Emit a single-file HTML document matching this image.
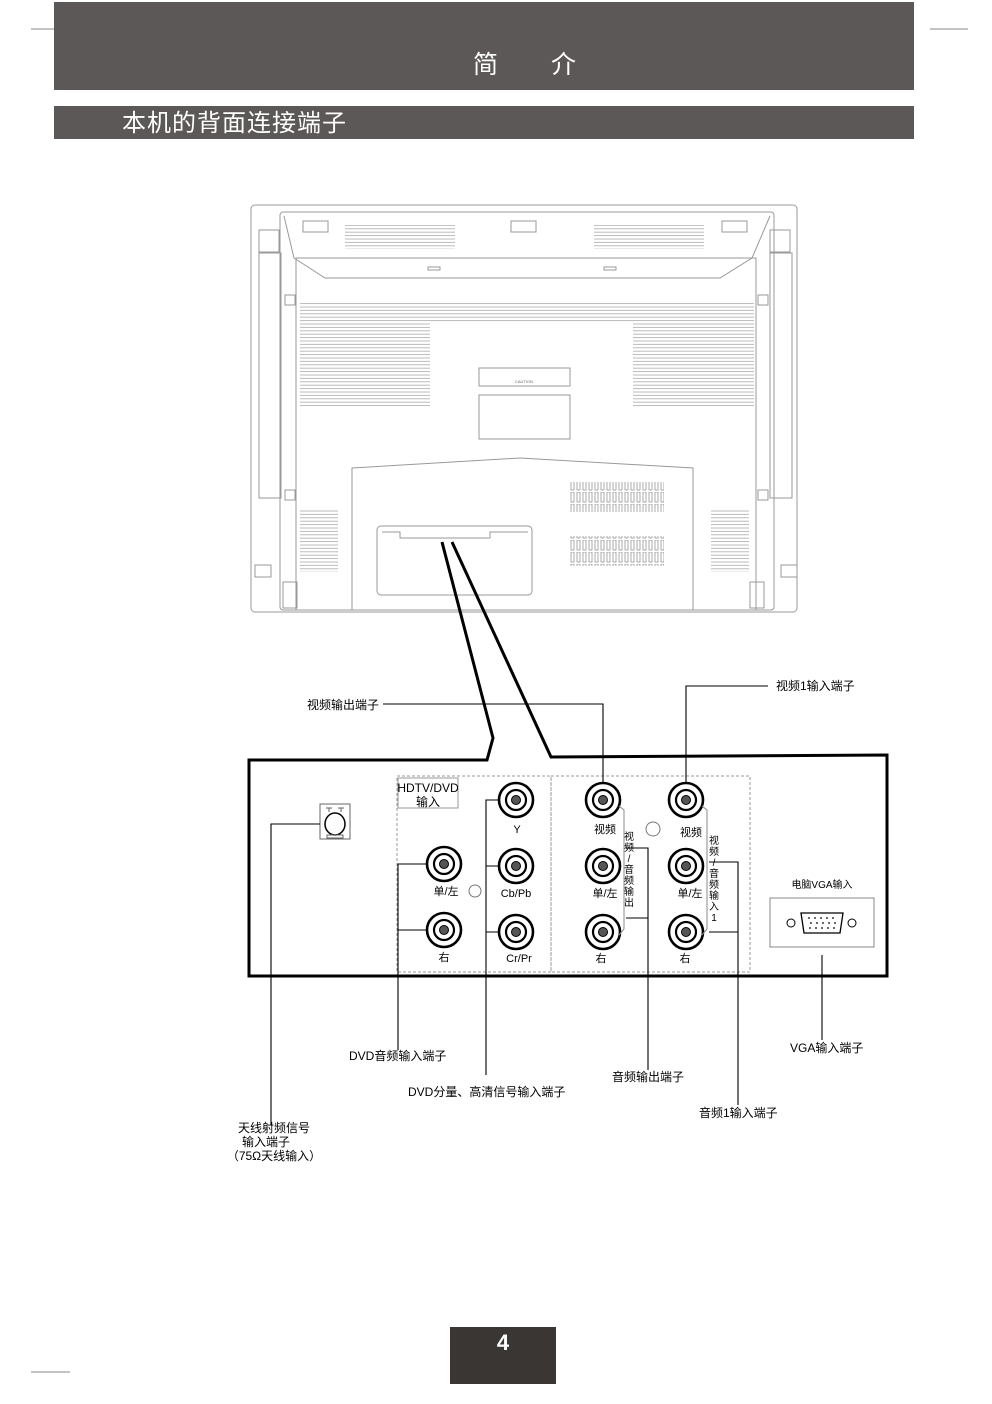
<!DOCTYPE html>
<html><head><meta charset="utf-8"><style>
html,body{margin:0;padding:0;background:#fff;}
svg{display:block;}
text{font-family:"Liberation Sans","Noto Sans CJK SC",sans-serif;}
</style></head><body>
<svg width="992" height="1404" viewBox="0 0 992 1404" xmlns="http://www.w3.org/2000/svg">
<defs>
<pattern id="vent" x="0" y="0" width="10" height="3.4" patternUnits="userSpaceOnUse">
<line x1="0" y1="1" x2="10" y2="1" stroke="#aaa" stroke-width="0.8"/>
</pattern>
<pattern id="slot" x="0" y="0" width="6" height="12" patternUnits="userSpaceOnUse">
<rect x="1" y="0" width="3" height="10" fill="none" stroke="#888" stroke-width="0.7"/>
</pattern>
<g id="jack">
<circle r="17" fill="#fff" stroke="#000" stroke-width="2.6"/>
<circle r="10" fill="none" stroke="#000" stroke-width="2.2"/>
<circle r="4.5" fill="#555" stroke="#000" stroke-width="1"/>
</g>
</defs>
<g stroke="#888" stroke-width="1">
<line x1="31" y1="29" x2="70" y2="29"/><line x1="930" y1="29" x2="968" y2="29"/>
<line x1="31" y1="1372" x2="70" y2="1372"/>
</g>
<rect x="54" y="2" width="860" height="88" fill="#5c5857"/>
<text x="473" y="73" font-size="25" fill="#fff">简</text>
<text x="551" y="73" font-size="25" fill="#fff">介</text>
<rect x="54" y="106" width="860" height="33" fill="#5c5857"/>
<text x="122" y="131" font-size="24" fill="#fff" letter-spacing="1">本机的背面连接端子</text>

<g fill="none" stroke="#999" stroke-width="1">
<rect x="251" y="205" width="546" height="407" rx="4"/>
<rect x="280" y="212" width="494" height="398" rx="3"/>
<path d="M284 216 L294 258 L325 278 L720 278 L752 258 L770 216"/>
<rect x="296" y="258" width="460" height="352"/>
<rect x="259" y="230" width="20" height="22"/><rect x="770" y="230" width="20" height="22"/>
<rect x="259" y="253" width="22" height="245"/><rect x="770" y="253" width="22" height="245"/>
<rect x="255" y="565" width="16" height="12"/><rect x="781" y="565" width="16" height="12"/>
<rect x="303" y="221" width="25" height="11"/><rect x="511" y="221" width="25" height="11"/><rect x="722" y="221" width="25" height="11"/>
<rect x="428" y="267" width="12" height="3"/><rect x="604" y="267" width="12" height="3"/>
<rect x="479" y="368" width="91" height="18"/>
<rect x="479" y="395" width="91" height="44"/>
<path d="M352 468 L520 458 L693 468 L693 610 L352 610 Z"/>
<rect x="377" y="526" width="155" height="69" rx="4"/>
<path d="M382 532 L400 532 L400 538 L490 538 L490 532 L528 532"/>
<rect x="285" y="295" width="10" height="10"/><rect x="285" y="490" width="10" height="10"/>
<rect x="758" y="295" width="10" height="10"/><rect x="758" y="490" width="10" height="10"/>
<rect x="283" y="582" width="14" height="26"/><rect x="750" y="582" width="14" height="26"/>
</g>
<rect x="345" y="225" width="110" height="24" fill="url(#vent)"/>
<rect x="594" y="225" width="110" height="24" fill="url(#vent)"/>
<rect x="300" y="303" width="454" height="20" fill="url(#vent)"/>
<rect x="300" y="323" width="130" height="85" fill="url(#vent)"/>
<rect x="633" y="323" width="121" height="85" fill="url(#vent)"/>
<rect x="300" y="510" width="38" height="62" fill="url(#vent)"/>
<rect x="711" y="510" width="38" height="62" fill="url(#vent)"/>
<rect x="570" y="482" width="94" height="30" fill="url(#slot)"/>
<rect x="570" y="536" width="94" height="30" fill="url(#slot)"/>
<text x="524" y="383" font-size="4" fill="#666" text-anchor="middle">CAUTION</text>

<path d="M442 542 L493 738 L487 760 L249 760 L249 976 L887 976 L887 755 L551 757 L452 542" fill="none" stroke="#000" stroke-width="3" stroke-linejoin="miter"/>
<g fill="none" stroke="#999" stroke-width="1" stroke-dasharray="3,2">
<rect x="397" y="776" width="154" height="196"/>
<rect x="551" y="776" width="199" height="196"/>
</g>
<rect x="398" y="778" width="60" height="30" fill="#fff" stroke="#999"/>
<text x="428" y="792" font-size="12" text-anchor="middle">HDTV/DVD</text>
<text x="428" y="806" font-size="12" text-anchor="middle">输入</text>

<g fill="none" stroke="#666" stroke-width="1">
<rect x="320" y="804" width="30" height="35"/>
<ellipse cx="335" cy="824" rx="10" ry="11" stroke="#000" stroke-width="1.5"/>
<path d="M329 808 L329 812 M326 808 L332 808 M341 808 L341 812 M338 808 L344 808"/>
<rect x="327" y="835" width="16" height="3"/>
</g>

<use href="#jack" x="444" y="864"/><use href="#jack" x="444" y="930"/>
<use href="#jack" x="516" y="800"/><use href="#jack" x="516" y="866"/><use href="#jack" x="516" y="932"/>
<use href="#jack" x="603" y="800"/><use href="#jack" x="603" y="866"/><use href="#jack" x="603" y="932"/>
<use href="#jack" x="686" y="800"/><use href="#jack" x="686" y="866"/><use href="#jack" x="686" y="932"/>
<circle cx="475" cy="891" r="6" fill="none" stroke="#777"/>
<circle cx="653" cy="829" r="7" fill="none" stroke="#777"/>
<g font-size="11" text-anchor="middle" fill="#000">
<text x="446" y="895">单/左</text><text x="444" y="961">右</text>
<text x="517" y="833">Y</text><text x="516" y="897">Cb/Pb</text><text x="519" y="962">Cr/Pr</text>
<text x="605" y="833">视频</text><text x="605" y="897">单/左</text><text x="601" y="962">右</text>
<text x="691" y="836">视频</text><text x="690" y="897">单/左</text><text x="685" y="962">右</text>
</g>
<g font-size="10" text-anchor="middle">
<text x="629" y="840">视</text><text x="629" y="851">频</text><text x="629" y="862">/</text><text x="629" y="873">音</text><text x="629" y="884">频</text><text x="629" y="895">输</text><text x="629" y="906">出</text>
<text x="714" y="844">视</text><text x="714" y="855">频</text><text x="714" y="866">/</text><text x="714" y="877">音</text><text x="714" y="888">频</text><text x="714" y="899">输</text><text x="714" y="910">入</text><text x="714" y="921">1</text>
</g>
<g fill="none" stroke="#888" stroke-width="1">
<path d="M619 806 L624 810 L624 929 L619 935"/>
<path d="M702 806 L707 810 L707 929 L702 935"/>
</g>
<text x="822" y="888" font-size="10" text-anchor="middle">电脑VGA输入</text>
<rect x="770" y="898" width="104" height="49" fill="none" stroke="#888"/>
<circle cx="791" cy="923" r="4" fill="none" stroke="#000"/><circle cx="852" cy="923" r="4" fill="none" stroke="#000"/>
<path d="M801 913 L843 913 L840 933 L804 933 Z" fill="none" stroke="#000" stroke-width="1.3"/>
<g fill="#000"><circle cx="809" cy="918" r="0.9"/><circle cx="815" cy="918" r="0.9"/><circle cx="821" cy="918" r="0.9"/><circle cx="827" cy="918" r="0.9"/><circle cx="833" cy="918" r="0.9"/>
<circle cx="811" cy="923" r="0.9"/><circle cx="817" cy="923" r="0.9"/><circle cx="823" cy="923" r="0.9"/><circle cx="829" cy="923" r="0.9"/><circle cx="835" cy="923" r="0.9"/>
<circle cx="810" cy="928" r="0.9"/><circle cx="816" cy="928" r="0.9"/><circle cx="822" cy="928" r="0.9"/><circle cx="828" cy="928" r="0.9"/><circle cx="834" cy="928" r="0.9"/></g>

<g fill="none" stroke="#000" stroke-width="1.1">
<path d="M320 824 L271 824 L271 1125"/>
<path d="M427 864 L398 864 L398 1050 M398 930 L427 930"/>
<path d="M499 800 L486 800 L486 1075 M486 866 L499 866 M486 932 L499 932"/>
<path d="M603 783 L603 704 L383 704"/>
<path d="M686 783 L686 686 L768 686"/>
<path d="M626 848 L648 848 L648 1070 M626 918 L648 918"/>
<path d="M709 862 L738 862 L738 1105 M709 932 L738 932"/>
<path d="M822 955 L822 1040"/>
</g>
<g font-size="12" fill="#000">
<text x="307" y="709">视频输出端子</text>
<text x="776" y="690">视频1输入端子</text>
<text x="349" y="1060">DVD音频输入端子</text>
<text x="408" y="1096">DVD分量、高清信号输入端子</text>
<text x="612" y="1081">音频输出端子</text>
<text x="699" y="1117">音频1输入端子</text>
<text x="790" y="1052">VGA输入端子</text>
<text x="274" y="1132" text-anchor="middle">天线射频信号</text>
<text x="266" y="1146" text-anchor="middle">输入端子</text>
<text x="274" y="1160" text-anchor="middle">（75Ω天线输入）</text>
</g>

<rect x="450" y="1327" width="106" height="57" fill="#3a3634"/>
<text x="503" y="1350" font-size="22" font-weight="bold" fill="#fff" text-anchor="middle">4</text>
</svg>
</body></html>
